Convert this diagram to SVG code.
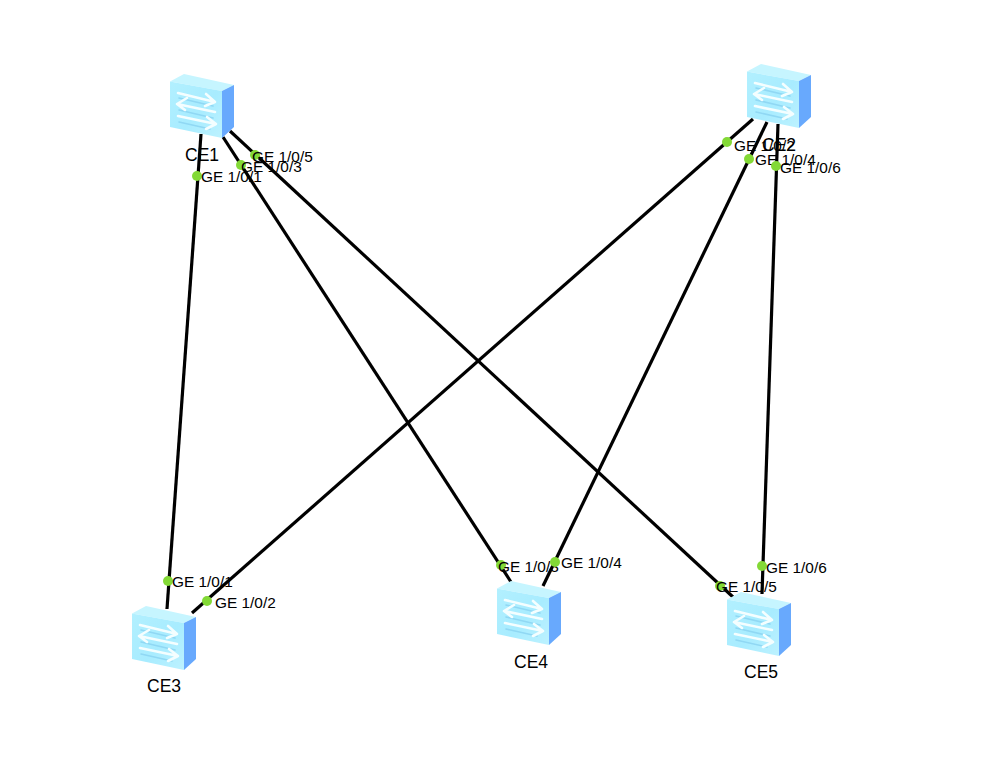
<svg xmlns="http://www.w3.org/2000/svg" width="992" height="777" viewBox="0 0 992 777">
<style>
.link{stroke:#000;stroke-width:3.2;fill:none}
.port{fill:#83d936;stroke:none}
text{font-family:"Liberation Sans",Arial,sans-serif;fill:#000}
.pl{font-size:15.4px}
.nl{font-size:17.5px}
.ar{fill:none;stroke:#f4feff;stroke-width:2.6;stroke-linecap:round;stroke-linejoin:round}
.bd{fill:none;stroke:#90d8f4;stroke-width:1.6;stroke-linecap:round}
</style>
<defs>
<filter id="soft" x="-5%" y="-5%" width="110%" height="110%"><feGaussianBlur stdDeviation="0.45"/></filter>
<linearGradient id="front" x1="0" y1="0" x2="1" y2="1"><stop offset="0" stop-color="#b2f0ff"/><stop offset="0.55" stop-color="#a8ecff"/><stop offset="1" stop-color="#bdf2ff"/></linearGradient>
<g id="sw" filter="url(#soft)">
<path d="M0 7.500 14 0 64 11 52 17Z" fill="#c6f5ff"/>
<path d="M0 7.500 52 17 52 64 0 53Z" fill="url(#front)"/>
<path d="M52 17 64 11 64 53 52 64Z" fill="#67a9fd"/>
<path class="bd" d="M9 24 43 32M9 36 43 44M9 48 40 55"/>
<path class="ar" d="M8 19 45 28M36 20 45 28 35 32"/>
<path class="ar" d="M45 38 7 30M17 24 7 30 15 36"/>
<path class="ar" d="M8 42 46 50M37 43 46 50 36 55"/>
</g>
</defs>
<rect width="992" height="777" fill="#fff"/>
<g id="connectors">
<line class="link" x1="201" y1="134" x2="167" y2="609"/>
<line class="link" x1="223" y1="137" x2="511" y2="582"/>
<line class="link" x1="230" y1="131" x2="733" y2="597"/>
<line class="link" x1="753" y1="119" x2="192" y2="613"/>
<line class="link" x1="767" y1="122" x2="543" y2="586"/>
<line class="link" x1="778" y1="124" x2="762" y2="594"/>
</g>
<g id="CE1"><use href="#sw" x="170" y="74"/><text class="nl" x="185" y="161">CE1</text></g>
<g id="CE2"><use href="#sw" x="747" y="64"/><text class="nl" x="762" y="151">CE2</text></g>
<g id="CE3"><use href="#sw" x="132" y="606"/><text class="nl" x="147" y="692">CE3</text></g>
<g id="CE4"><use href="#sw" x="497" y="581"/><text class="nl" x="514" y="668">CE4</text></g>
<g id="CE5"><use href="#sw" x="727" y="592"/><text class="nl" x="744" y="678">CE5</text></g>
<g id="ports">
<circle class="port" cx="197" cy="176" r="5"/><text class="pl" x="201" y="182">GE 1/0/1</text>
<circle class="port" cx="241" cy="165" r="5"/><text class="pl" x="241" y="172">GE 1/0/3</text>
<circle class="port" cx="255" cy="155" r="5"/><text class="pl" x="252" y="162">GE 1/0/5</text>
<circle class="port" cx="727" cy="142" r="5"/><text class="pl" x="734" y="151">GE 1/0/2</text>
<circle class="port" cx="749" cy="159" r="5"/><text class="pl" x="755" y="165">GE 1/0/4</text>
<circle class="port" cx="776" cy="166" r="5"/><text class="pl" x="780" y="173">GE 1/0/6</text>
<circle class="port" cx="168" cy="581" r="5"/><text class="pl" x="172" y="587">GE 1/0/1</text>
<circle class="port" cx="207" cy="601" r="5"/><text class="pl" x="215" y="608">GE 1/0/2</text>
<circle class="port" cx="501" cy="565" r="5"/><text class="pl" x="498" y="572">GE 1/0/3</text>
<circle class="port" cx="555" cy="562" r="5"/><text class="pl" x="561" y="568">GE 1/0/4</text>
<circle class="port" cx="720" cy="586" r="5"/><text class="pl" x="716" y="592">GE 1/0/5</text>
<circle class="port" cx="762" cy="566" r="5"/><text class="pl" x="766" y="573">GE 1/0/6</text>
</g>
</svg>
